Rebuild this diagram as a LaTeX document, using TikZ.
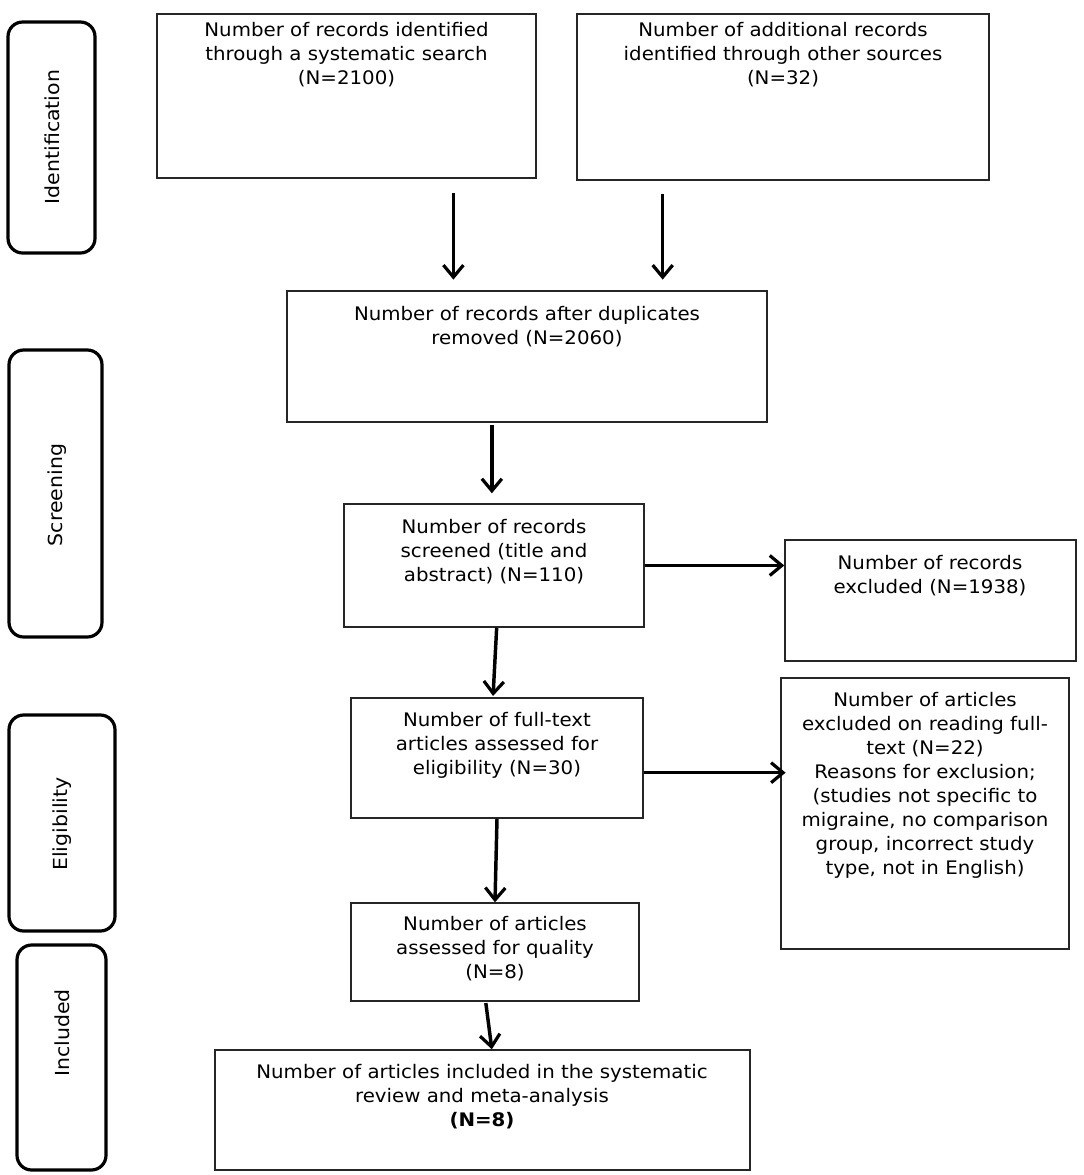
\documentclass[tikz,border=0pt]{standalone}
\usepackage{fontspec}
\setmainfont[FakeStretch=1.06]{DejaVu Sans}
\usetikzlibrary{arrows.meta,fit,calc}
\begin{document}
\begin{tikzpicture}[x=0.75pt,y=-0.75pt,
  box/.style={draw=black!85, line width=1.1pt, inner sep=0pt},
  phase/.style={draw=black, line width=2.4pt, rounded corners=11pt, inner sep=0pt},
  txt/.style={align=center, font=\fontsize{14}{18}\selectfont, inner sep=0pt, anchor=north},
  phasetxt/.style={rotate=90, font=\fontsize{14.5}{18}\selectfont, inner sep=0pt},
  arr/.style={line width=2.6pt, -{Straight Barb[length=9pt,width=15pt,line width=2.4pt]}}]
\useasboundingbox (0,0) rectangle (1084,1175);
% phase boxes
\node[phase, fit={(8,22)(95,253)}] (p1) {};
\node[phase, fit={(9,350)(102,637)}] (p2) {};
\node[phase, fit={(9,715)(115,931)}] (p3) {};
\node[phase, fit={(17,945)(106,1170)}] (p4) {};
\node[phasetxt] (l1) at (52,137) {Identification};
\node[phasetxt] (l2) at (57,495) {Screening};
\node[phasetxt] (l3) at (62,824) {Eligibility};
\node[phasetxt] (l4) at (62,1033) {Included};
% main boxes
\node[box, fit={(157,14)(536,178)}] (b1) {};
\node[box, fit={(577,14)(989,180)}] (b2) {};
\node[box, fit={(287,291)(767,422)}] (b3) {};
\node[box, fit={(344,504)(644,627)}] (b4) {};
\node[box, fit={(785,540)(1076,661)}] (b5) {};
\node[box, fit={(351,698)(643,818)}] (b6) {};
\node[box, fit={(781,678)(1069,949)}] (b7) {};
\node[box, fit={(351,903)(639,1001)}] (b8) {};
\node[box, fit={(215,1050)(750,1170)}] (b9) {};
% texts
\node[txt] (t1) at (346.5,22) {Number of records identified\\through a systematic search\\(N=2100)};
\node[txt] (t2) at (783,22) {Number of additional records\\identified through other sources\\(N=32)};
\node[txt] (t3) at (527,306) {Number of records after duplicates\\removed (N=2060)};
\node[txt] (t4) at (494,519) {Number of records\\screened (title and\\abstract) (N=110)};
\node[txt] (t5) at (930,555) {Number of records\\excluded (N=1938)};
\node[txt] (t6) at (497,712) {Number of full-text\\articles assessed for\\eligibility (N=30)};
\node[txt] (t7) at (925,692) {Number of articles\\excluded on reading full-\\text (N=22)\\Reasons for exclusion;\\(studies not specific to\\migraine, no comparison\\group, incorrect study\\type, not in English)};
\node[txt] (t8) at (495,916) {Number of articles\\assessed for quality\\(N=8)};
\node[txt] (t9) at (482,1064) {Number of articles included in the systematic\\review and meta-analysis\\\textbf{(N=8)}};
% arrows
\draw[arr, shorten <=11pt, shorten >=8pt] ($(b1.south west)!0.781!(b1.south east)$) coordinate (s1) -- (s1 |- b3.north);
\draw[arr, shorten <=10pt, shorten >=8pt] ($(b2.south west)!0.209!(b2.south east)$) coordinate (s2) -- (s2 |- b3.north);
\draw[arr, shorten <=2pt, shorten >=7.5pt] ($(b3.south west)!0.427!(b3.south east)$) coordinate (s3) -- (s3 |- b4.north);
\draw[arr] (b4.east) -- (b4.east -| b5.west);
\draw[arr, shorten >=1pt] ([xshift=2pt]b4.south) -- ([xshift=-3pt]b6.north);
\draw[arr, shorten >=-4pt] ([yshift=-11pt]b6.east) coordinate (s6) -- (s6 -| b7.west);
\draw[arr] (b6.south) -- (b8.north);
\draw[arr, shorten <=1pt] ([xshift=-7pt]b8.south) -- ([xshift=7pt]b9.north);
\end{tikzpicture}
\end{document}
